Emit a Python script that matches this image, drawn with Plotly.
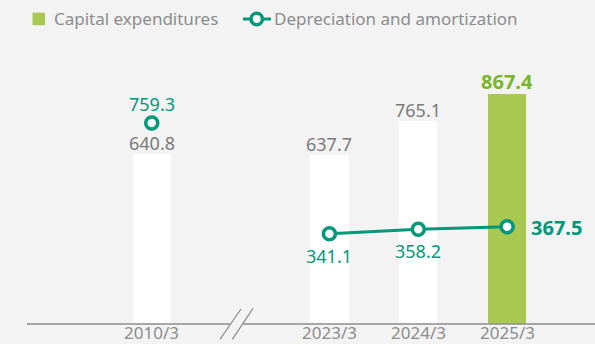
import plotly.graph_objects as go

# Fiscal years shown; a blank slot separates 2010/3 from the recent years
periods = ["2010/3", "2023/3", "2024/3", "2025/3"]
slot_order = ["2010/3", None, "2023/3", "2024/3", "2025/3"]

# Billions of yen
capex = [640.8, 637.7, 765.1, 867.4]
depreciation = [759.3, 341.1, 358.2, 367.5]

BG = "#f3f3f3"
GREY_TXT = "#7a7a7a"
AXIS_GREY = "#8c8c8c"
TEAL = "#00987b"
BAR_GREEN = "#a9c852"
LABEL_GREEN = "#79b52c"
FONT = "Noto Sans"

W, H = 595, 344
ML, MR, MT, MB = 27, 0, 40, 20
PW, PH = W - ML - MR, H - MT - MB
Y_MAX = 1073
X_RANGE = [-1.404, 4.989]

xpos = [slot_order.index(p) for p in periods]


def px_x(px):
    return (px - ML) / PW


def px_y(py):
    return (H - MB - py) / PH


fig = go.Figure()

# Capital expenditures bars: highlight the latest year
bar_colors = ["#ffffff"] * (len(periods) - 1) + [BAR_GREEN]
fig.add_trace(go.Bar(
    x=xpos, y=capex, width=0.43,
    marker=dict(color=bar_colors, line=dict(width=0)),
    hoverinfo="skip", showlegend=False,
))

# Depreciation: standalone point for 2010/3, connected line for recent years
marker_style = dict(size=12, color="#ffffff", line=dict(color=TEAL, width=3.5))
fig.add_trace(go.Scatter(
    x=xpos[:1], y=depreciation[:1], mode="markers",
    marker=marker_style, hoverinfo="skip", showlegend=False,
))
fig.add_trace(go.Scatter(
    x=xpos[1:], y=depreciation[1:], mode="lines+markers",
    line=dict(color=TEAL, width=3), marker=marker_style,
    hoverinfo="skip", showlegend=False,
))

annotations = []
last = len(periods) - 1

# Period labels under the baseline
for x, p in zip(xpos, periods):
    annotations.append(dict(
        x=x, y=px_y(332), xref="x", yref="paper", text=p, showarrow=False,
        xanchor="center", yanchor="middle", borderpad=0,
        font=dict(family=FONT, size=17, color=AXIS_GREY),
    ))

# Value labels above the bars
for i, (x, v) in enumerate(zip(xpos, capex)):
    is_last = i == last
    annotations.append(dict(
        x=x, y=v, xref="x", yref="y", text=f"{v:.1f}", showarrow=False,
        xanchor="center", yanchor="middle", yshift=13 if is_last else 11.5,
        font=dict(family=FONT, size=20 if is_last else 18,
                  color=LABEL_GREEN if is_last else GREY_TXT,
                  weight="bold" if is_last else "normal"),
    ))

# Value labels for depreciation
for i, (x, v) in enumerate(zip(xpos, depreciation)):
    if i == 0:
        ann = dict(xanchor="center", yshift=18.7, xshift=0,
                   font=dict(family=FONT, size=18, color=TEAL))
    elif i == last:
        ann = dict(xanchor="left", yshift=-1, xshift=22,
                   font=dict(family=FONT, size=20, color=TEAL, weight="bold"))
    else:
        ann = dict(xanchor="center", yshift=-22, xshift=0,
                   font=dict(family=FONT, size=18, color=TEAL))
    annotations.append(dict(
        x=x, y=v, xref="x", yref="y", text=f"{v:.1f}", showarrow=False,
        yanchor="middle", **ann,
    ))

# Legend built by hand
legend_y = 19
annotations.append(dict(
    x=px_x(52), y=px_y(legend_y), xref="paper", yref="paper",
    text="Capital expenditures", showarrow=False, xanchor="left", yanchor="middle",
    font=dict(family=FONT, size=17, color=AXIS_GREY),
))
annotations.append(dict(
    x=px_x(272), y=px_y(legend_y), xref="paper", yref="paper",
    text="Depreciation and amortization", showarrow=False, xanchor="left", yanchor="middle",
    font=dict(family=FONT, size=17, color=AXIS_GREY),
))

shapes = [
    # legend swatch
    dict(type="rect", xref="paper", yref="paper",
         x0=px_x(32.5), x1=px_x(45), y0=px_y(25.2), y1=px_y(12.7),
         fillcolor=BAR_GREEN, line=dict(width=0)),
    # legend line + ring
    dict(type="line", xref="paper", yref="paper",
         x0=px_x(243), x1=px_x(271), y0=px_y(legend_y), y1=px_y(legend_y),
         line=dict(color=TEAL, width=3)),
    dict(type="circle", xref="paper", yref="paper",
         x0=px_x(251), x1=px_x(262.4), y0=px_y(legend_y + 5.7), y1=px_y(legend_y - 5.7),
         fillcolor="#ffffff", line=dict(color=TEAL, width=3.5)),
    # baseline, broken between the two eras
    dict(type="line", xref="paper", yref="paper",
         x0=px_x(27), x1=px_x(230.6), y0=0, y1=0,
         line=dict(color=AXIS_GREY, width=1.5)),
    dict(type="line", xref="paper", yref="paper",
         x0=px_x(242.5), x1=px_x(595), y0=0, y1=0,
         line=dict(color=AXIS_GREY, width=1.5)),
    # axis break marks
    dict(type="line", xref="paper", yref="paper",
         x0=px_x(220), x1=px_x(241), y0=px_y(339.3), y1=px_y(309),
         line=dict(color=AXIS_GREY, width=1.2)),
    dict(type="line", xref="paper", yref="paper",
         x0=px_x(232.3), x1=px_x(253), y0=px_y(339.3), y1=px_y(308.3),
         line=dict(color=AXIS_GREY, width=1.2)),
]

fig.update_layout(
    width=W, height=H,
    margin=dict(l=ML, r=MR, t=MT, b=MB, pad=0),
    paper_bgcolor=BG, plot_bgcolor=BG,
    bargap=0, showlegend=False,
    annotations=annotations, shapes=shapes,
    xaxis=dict(
        range=X_RANGE, showticklabels=False,
        showgrid=False, zeroline=False, showline=False, ticks="",
        fixedrange=True,
    ),
    yaxis=dict(
        range=[0, Y_MAX], visible=False, showgrid=False, zeroline=False,
        fixedrange=True,
    ),
)

fig.write_html("out.html", config=dict(displayModeBar=False))
